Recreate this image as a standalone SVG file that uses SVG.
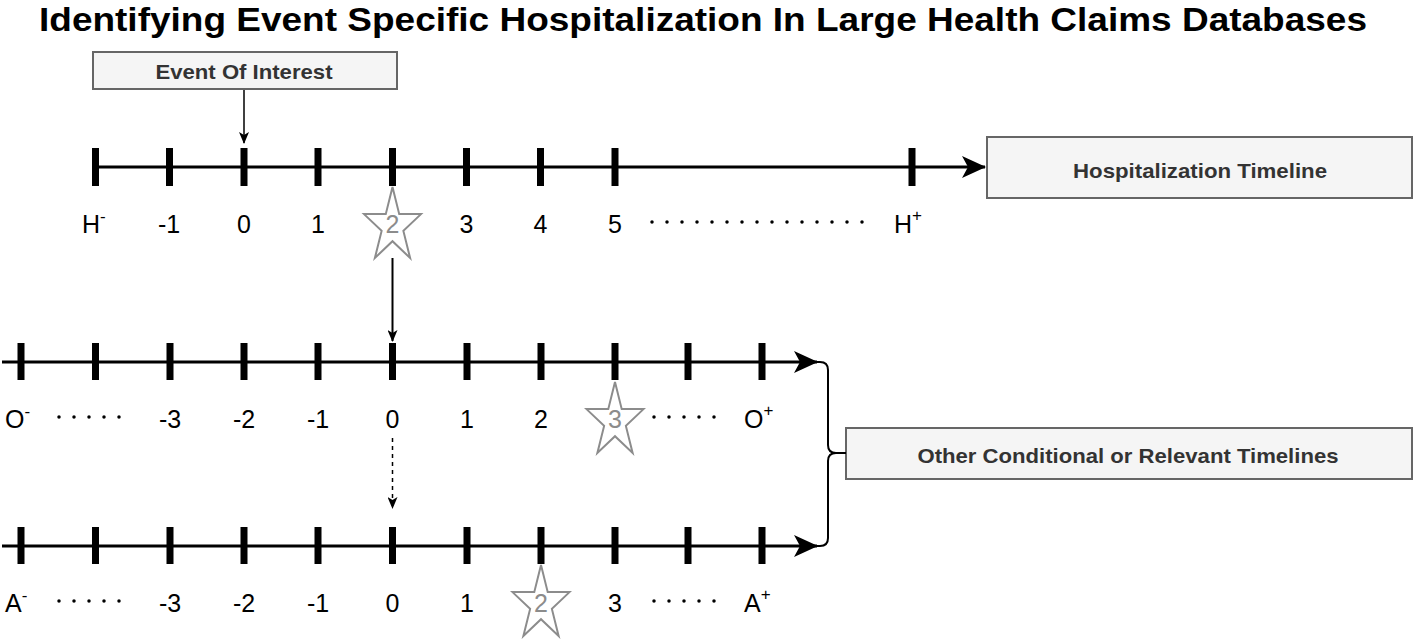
<svg xmlns="http://www.w3.org/2000/svg" width="1416" height="639" viewBox="0 0 1416 639">
<style>
.title{font-family:"Liberation Sans",Arial,sans-serif;font-weight:bold;font-size:34px;fill:#000}
.box{fill:#f5f5f5;stroke:#666;stroke-width:2}
.btxt{font-family:"Liberation Sans",Arial,sans-serif;font-weight:bold;font-size:21px;fill:#333;text-anchor:middle}
.axis{stroke:#000;stroke-width:3;fill:none}
.tick{fill:#000}
.lbl{font-family:"Liberation Sans",Arial,sans-serif;font-size:25px;fill:#000;text-anchor:middle}
.lbls{font-family:"Liberation Sans",Arial,sans-serif;font-size:25px;fill:#000}
.sup{font-size:17px}
.dots{stroke:#000;stroke-width:3.5;stroke-linecap:round;stroke-dasharray:0 15;fill:none}
.star{fill:#fff;stroke:#8c8c8c;stroke-width:2}
.stxt{font-family:"Liberation Sans",Arial,sans-serif;font-size:25px;fill:#8c8c8c;text-anchor:middle}
.conn{stroke:#000;fill:none}
</style>
<defs>
<marker id="big" markerUnits="userSpaceOnUse" viewBox="0 0 24 22" markerWidth="24" markerHeight="22" refX="23" refY="11" orient="auto">
<path d="M0,0 L24,11 L0,22 L6,11 Z" fill="#000"/>
</marker>
<marker id="small" markerUnits="userSpaceOnUse" viewBox="0 0 12 10" markerWidth="12" markerHeight="10" refX="11" refY="5" orient="auto">
<path d="M0,0 L12,5 L0,10 L3,5 Z" fill="#000"/>
</marker>
<polygon id="starshape" points="0,-39.25 6.73,-12.13 28.5,-12.13 10.88,4.63 17.62,31.75 0,15 -17.62,31.75 -10.88,4.63 -28.5,-12.13 -6.73,-12.13"/>
</defs>

<text class="title" x="703" y="31" text-anchor="middle" textLength="1328" lengthAdjust="spacingAndGlyphs">Identifying Event Specific Hospitalization In Large Health Claims Databases</text>

<g id="event-of-interest">
<rect class="box" x="93" y="52" width="304" height="37"/>
<text class="btxt" x="244" y="79" textLength="177" lengthAdjust="spacingAndGlyphs">Event Of Interest</text>
</g>

<g id="hospitalization-box">
<rect class="box" x="987" y="137" width="425" height="61"/>
<text class="btxt" x="1200" y="178" textLength="254" lengthAdjust="spacingAndGlyphs">Hospitalization Timeline</text>
</g>

<g id="other-box">
<rect class="box" x="846" y="428" width="566" height="51"/>
<text class="btxt" x="1128" y="463" textLength="421" lengthAdjust="spacingAndGlyphs">Other Conditional or Relevant Timelines</text>
</g>

<g id="hospitalization-timeline">
<line class="axis" x1="93" y1="167" x2="985" y2="167" marker-end="url(#big)"/>
<rect class="tick" x="92" y="148" width="7" height="38"/>
<rect class="tick" x="166" y="148" width="7" height="38"/>
<rect class="tick" x="240.5" y="148" width="7" height="38"/>
<rect class="tick" x="314.5" y="148" width="7" height="38"/>
<rect class="tick" x="389" y="148" width="7" height="38"/>
<rect class="tick" x="463" y="148" width="7" height="38"/>
<rect class="tick" x="537" y="148" width="7" height="38"/>
<rect class="tick" x="611.5" y="148" width="7" height="38"/>
<rect class="tick" x="908.5" y="148" width="7" height="38"/>
<text class="lbls" x="82" y="233">H<tspan class="sup" dy="-11">-</tspan></text>
<text class="lbl" x="169" y="233">-1</text>
<text class="lbl" x="244" y="233">0</text>
<text class="lbl" x="318" y="233">1</text>
<use href="#starshape" class="star" transform="translate(392.5,226.25)"/>
<text class="stxt" x="392.5" y="233">2</text>
<text class="lbl" x="466.5" y="233">3</text>
<text class="lbl" x="540.5" y="233">4</text>
<text class="lbl" x="615" y="233">5</text>
<line class="dots" x1="652" y1="222" x2="863" y2="222"/>
<text class="lbls" x="894" y="233">H<tspan class="sup" dy="-12">+</tspan></text>
</g>

<g id="other-timeline">
<line class="axis" x1="2" y1="362" x2="817" y2="362" marker-end="url(#big)"/>
<rect class="tick" x="17.5" y="343" width="7" height="37"/>
<rect class="tick" x="92" y="343" width="7" height="37"/>
<rect class="tick" x="166.5" y="343" width="7" height="37"/>
<rect class="tick" x="240.5" y="343" width="7" height="37"/>
<rect class="tick" x="314.5" y="343" width="7" height="37"/>
<rect class="tick" x="389" y="343" width="7" height="37"/>
<rect class="tick" x="463.5" y="343" width="7" height="37"/>
<rect class="tick" x="537.5" y="343" width="7" height="37"/>
<rect class="tick" x="611.5" y="343" width="7" height="37"/>
<rect class="tick" x="684.5" y="343" width="7" height="37"/>
<rect class="tick" x="758.5" y="343" width="7" height="37"/>
<text class="lbls" x="5" y="428">O<tspan class="sup" dy="-11">-</tspan></text>
<line class="dots" x1="59" y1="417" x2="120" y2="417"/>
<text class="lbl" x="170" y="428">-3</text>
<text class="lbl" x="244" y="428">-2</text>
<text class="lbl" x="318" y="428">-1</text>
<text class="lbl" x="392.5" y="428">0</text>
<text class="lbl" x="467" y="428">1</text>
<text class="lbl" x="541" y="428">2</text>
<use href="#starshape" class="star" transform="translate(615,421.25)"/>
<text class="stxt" x="615" y="428">3</text>
<line class="dots" x1="654" y1="417" x2="715" y2="417"/>
<text class="lbls" x="744" y="428">O<tspan class="sup" dy="-12">+</tspan></text>
</g>

<g id="a-timeline">
<line class="axis" x1="2" y1="546" x2="817" y2="546" marker-end="url(#big)"/>
<rect class="tick" x="17.5" y="527" width="7" height="37"/>
<rect class="tick" x="92" y="527" width="7" height="37"/>
<rect class="tick" x="166.5" y="527" width="7" height="37"/>
<rect class="tick" x="240.5" y="527" width="7" height="37"/>
<rect class="tick" x="314.5" y="527" width="7" height="37"/>
<rect class="tick" x="389" y="527" width="7" height="37"/>
<rect class="tick" x="463.5" y="527" width="7" height="37"/>
<rect class="tick" x="537.5" y="527" width="7" height="37"/>
<rect class="tick" x="611.5" y="527" width="7" height="37"/>
<rect class="tick" x="684.5" y="527" width="7" height="37"/>
<rect class="tick" x="758.5" y="527" width="7" height="37"/>
<text class="lbls" x="5" y="612">A<tspan class="sup" dy="-11">-</tspan></text>
<line class="dots" x1="59" y1="601" x2="120" y2="601"/>
<text class="lbl" x="170" y="612">-3</text>
<text class="lbl" x="244" y="612">-2</text>
<text class="lbl" x="318" y="612">-1</text>
<text class="lbl" x="392.5" y="612">0</text>
<text class="lbl" x="467" y="612">1</text>
<use href="#starshape" class="star" transform="translate(541,604.25)"/>
<text class="stxt" x="541" y="612">2</text>
<text class="lbl" x="615" y="612">3</text>
<line class="dots" x1="654" y1="601" x2="715" y2="601"/>
<text class="lbls" x="744" y="612">A<tspan class="sup" dy="-12">+</tspan></text>
</g>

<g id="connectors">
<line class="conn" stroke-width="1.5" x1="244" y1="90" x2="244" y2="143" marker-end="url(#small)"/>
<line class="conn" stroke-width="2" x1="392.5" y1="258" x2="392.5" y2="341" marker-end="url(#small)"/>
<line class="conn" stroke-width="1.5" stroke-dasharray="4 4" x1="392.5" y1="438" x2="392.5" y2="508" marker-end="url(#small)"/>
<path class="conn" stroke-width="2" d="M815,362 L820,362 Q828,362 828,370 L828,445 Q828,453 836,453 L846,453"/>
<path class="conn" stroke-width="2" d="M815,546 L820,546 Q828,546 828,538 L828,461 Q828,453 836,453"/>
</g>
</svg>
